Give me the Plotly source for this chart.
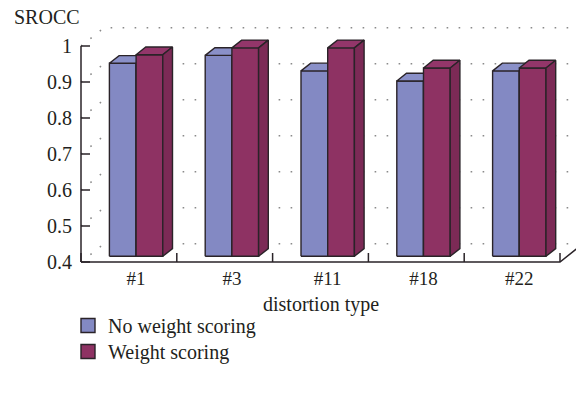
import plotly.graph_objects as go

# ---- data ----
categories = ["#1", "#3", "#11", "#18", "#22"]
no_weight_scoring = [0.936, 0.958, 0.915, 0.887, 0.915]
weight_scoring = [0.960, 0.979, 0.979, 0.923, 0.923]
series_names = ["No weight scoring", "Weight scoring"]
y_tick_values = [0.4, 0.5, 0.6, 0.7, 0.8, 0.9, 1.0]
y_tick_labels = ["0.4", "0.5", "0.6", "0.7", "0.8", "0.9", "1"]
y_title = "SROCC"
x_title = "distortion type"

# ---- geometry / style ----
FIG_W, FIG_H = 576, 398
ML, MT, MB = 79, 20, 132
PW, PH = FIG_W - ML, FIG_H - MT - MB
CAT_PX = 95.8          # pixels per category
VAL_PX = 360.0         # pixels per unit of SROCC
SLOPE = 0.795          # oblique depth direction (up per right)
BASE = 0.4

x_lo = -0.5 - 2 / CAT_PX
y_lo = BASE - 4 / VAL_PX
x_range = [x_lo, x_lo + PW / CAT_PX]
y_range = [y_lo, y_lo + PH / VAL_PX]


def dx(px):
    return px / CAT_PX


def dy(px):
    return px / VAL_PX


def depth(px):
    return dx(px), dy(px * SLOPE)


FONT = "Liberation Serif"
TXT = "#231f20"
EDGE = "#2a2328"
BAR_W = dx(26.7)
SETBACK = depth(7.2)
BAR_DEPTH = depth(9.7)
WALL = depth(23.0)

colors = [
    {"front": "#8389c3", "top": "#8a90c8", "side": "#6f74ad"},
    {"front": "#8e3263", "top": "#93366a", "side": "#7c2a56"},
]

fig = go.Figure()


def poly(xs, ys, fill):
    fig.add_trace(go.Scatter(
        x=xs + [xs[0]], y=ys + [ys[0]], mode="lines", fill="toself",
        fillcolor=fill, line=dict(color=EDGE, width=1.4),
        hoverinfo="skip", showlegend=False))


def seg(xs, ys, color, width, dash="solid"):
    fig.add_trace(go.Scatter(
        x=xs, y=ys, mode="lines", line=dict(color=color, width=width, dash=dash),
        hoverinfo="skip", showlegend=False))


# dotted grid on side and back walls
for t in y_tick_values:
    seg([-0.5, -0.5 + WALL[0], x_range[1] + 1],
        [t, t + WALL[1], t + WALL[1]],
        "#8a8a8a", 1.6, dash="1.6px,10.4px")

# 3D columns, painted left to right
series = [no_weight_scoring, weight_scoring]
for i in range(len(categories)):
    for k, values in enumerate(series):
        v = values[i]
        xl = i + SETBACK[0] + (k - 1) * BAR_W
        xr = xl + BAR_W
        yb = BASE + SETBACK[1]
        yt = v + SETBACK[1]
        ddx, ddy = BAR_DEPTH
        c = colors[k]
        poly([xl, xr, xr, xl], [yb, yb, yt, yt], c["front"])
        poly([xl, xr, xr + ddx, xl + ddx], [yt, yt, yt + ddy, yt + ddy], c["top"])
        poly([xr, xr + ddx, xr + ddx, xr], [yb, yb + ddy, yt + ddy, yt], c["side"])

# value axis line and inward ticks
seg([-0.5, -0.5], [BASE, y_tick_values[-1]], EDGE, 1.5)
tx, ty = [], []
for t in y_tick_values:
    tx += [-0.5, -0.5 + dx(9), None]
    ty += [t, t, None]
seg(tx, ty, EDGE, 1.5)

# floor front edge, category dividers and receding floor edge
n = len(categories)
seg([-0.5, n - 0.5, n - 0.5 + WALL[0]], [BASE, BASE, BASE + WALL[1]], EDGE, 1.5)
bx, by = [], []
for b in range(n + 1):
    bx += [b - 0.5, b - 0.5, None]
    by += [BASE, BASE + dy(9), None]
seg(bx, by, EDGE, 1.5)


def paper_x(px):
    return (px - ML) / PW


def paper_y(py):
    return (FIG_H - MB - py) / PH


# legend entries, one legend box per series
legend_ids = ["legend", "legend2"]
legend_tops = [306, 332]
for k, name in enumerate(series_names):
    fig.add_trace(go.Scatter(
        x=[None], y=[None], mode="markers", name=name, legend=legend_ids[k],
        marker=dict(symbol="square", size=14, color=colors[k]["front"],
                    line=dict(color=EDGE, width=1.4))))

legend_common = dict(xanchor="left", yanchor="top",
                     font=dict(family=FONT, size=20, color=TXT),
                     bgcolor="rgba(0,0,0,0)")

fig.update_layout(
    width=FIG_W, height=FIG_H,
    margin=dict(l=ML, r=0, t=MT, b=MB, pad=0),
    paper_bgcolor="white", plot_bgcolor="white",
    font=dict(family=FONT, size=19, color=TXT),
    xaxis=dict(range=x_range, showgrid=False, zeroline=False, showline=False,
               tickvals=[i + SETBACK[0] for i in range(n)], ticktext=categories,
               ticks="", ticklabelstandoff=-1,
               tickfont=dict(family=FONT, size=19, color=TXT)),
    yaxis=dict(range=y_range, showgrid=False, zeroline=False, showline=False,
               tickvals=y_tick_values, ticktext=y_tick_labels, ticks="",
               ticklabelstandoff=6,
               tickfont=dict(family=FONT, size=20, color=TXT)),
    legend=dict(x=paper_x(68), y=paper_y(legend_tops[0]), **legend_common),
    legend2=dict(x=paper_x(68), y=paper_y(legend_tops[1]), **legend_common),
    showlegend=True,
    annotations=[
        dict(text=y_title, xref="paper", yref="paper", x=paper_x(12), y=paper_y(17),
             xanchor="left", yanchor="middle", showarrow=False,
             font=dict(family=FONT, size=20, color=TXT)),
        dict(text=x_title, xref="paper", yref="paper", x=paper_x(321), y=paper_y(304),
             xanchor="center", yanchor="middle", showarrow=False,
             font=dict(family=FONT, size=20, color=TXT)),
    ],
)

fig.write_html("out.html")
